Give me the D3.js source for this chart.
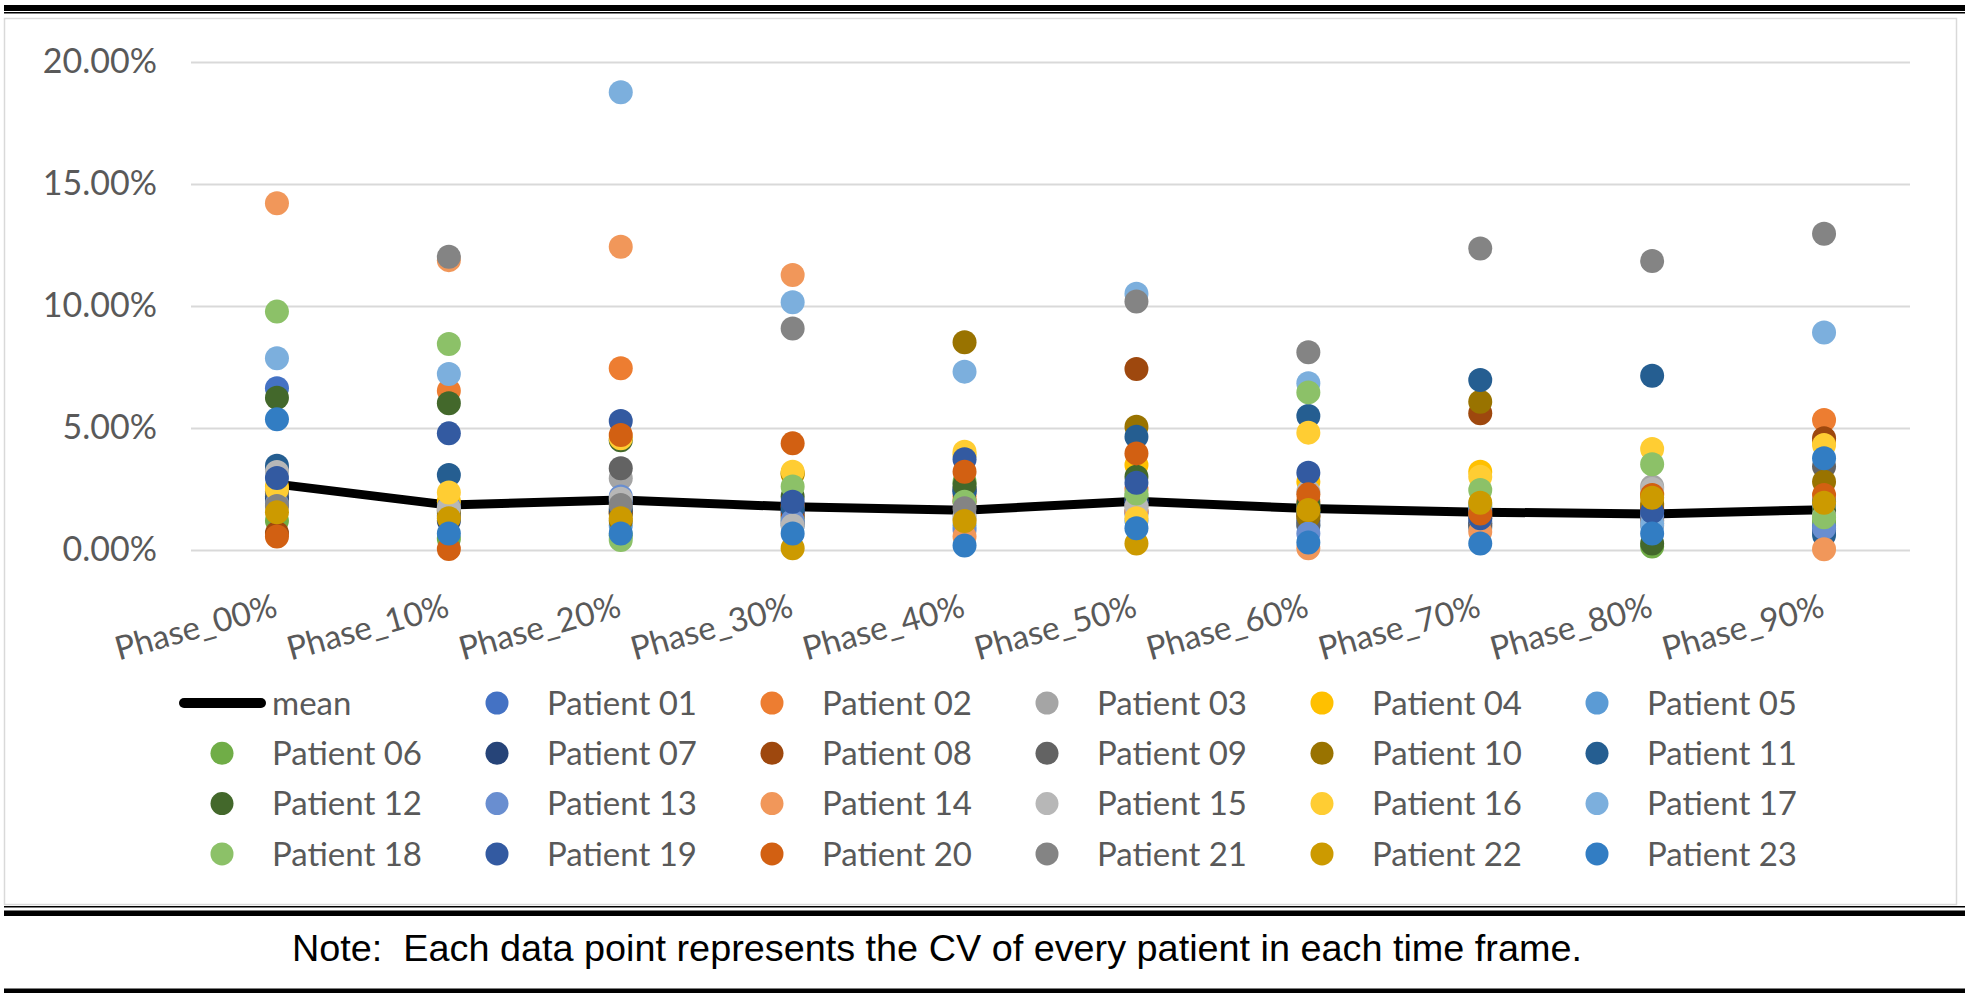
<!DOCTYPE html>
<html><head><meta charset="utf-8">
<script src="https://cdn.jsdelivr.net/npm/d3@7"></script>
<style>body{margin:0;background:#fff;} svg{display:block;}</style>
</head><body>
<svg id="chart" width="1965" height="998"></svg>
<script>
// ---- data (values in %) ----
const phases = ["Phase_00%","Phase_10%","Phase_20%","Phase_30%","Phase_40%","Phase_50%","Phase_60%","Phase_70%","Phase_80%","Phase_90%"];
const yTicks = [0, 5, 10, 15, 20];
const meanValues = [2.7, 1.84, 2.05, 1.77, 1.63, 2.0, 1.7, 1.55, 1.48, 1.65];
const patientNames = ["Patient 01","Patient 02","Patient 03","Patient 04","Patient 05","Patient 06","Patient 07","Patient 08","Patient 09","Patient 10","Patient 11","Patient 12","Patient 13","Patient 14","Patient 15","Patient 16","Patient 17","Patient 18","Patient 19","Patient 20","Patient 21","Patient 22","Patient 23"];
const patientColors = ["#4472C4","#ED7D31","#A5A5A5","#FFC000","#5B9BD5","#70AD47","#264478","#9E480E","#636363","#997300","#255E91","#43682B","#698ED0","#F1975A","#B7B7B7","#FFCD33","#7CAFDD","#8CC168","#335AA1","#D26012","#848484","#CC9A00","#327DC3"];
const patient01 = [6.63, 1.9, 2.0, 1.5, 2.5, 2.0, 1.5, 1.6, 1.6, 1.0];
const patient02 = [2.3, 6.53, 7.45, 1.8, 2.2, 2.5, 2.0, 1.4, 1.8, 5.33];
const patient03 = [3.3, 1.6, 2.94, 1.2, 1.4, 1.8, 1.8, 1.2, 2.6, 1.5];
const patient04 = [2.6, 2.0, 1.5, 3.1, 3.9, 3.48, 2.8, 3.21, 2.3, 4.4];
const patient05 = [2.2, 1.5, 1.0, 1.0, 1.0, 1.2, 1.0, 0.9, 1.0, 1.8];
const patient06 = [1.2, 0.45, 0.6, 1.3, 2.8, 2.2, 1.6, 1.8, 0.14, 1.2];
const patient07 = [2.1, 1.2, 1.5, 1.6, 2.39, 2.0, 1.2, 1.1, 1.2, 0.8];
const patient08 = [0.7, 1.7, 1.6, 1.4, 2.0, 7.42, 1.4, 5.6, 1.7, 4.58];
const patient09 = [2.4, 1.4, 3.35, 1.09, 2.5, 1.57, 1.02, 1.0, 1.3, 3.42];
const patient10 = [1.9, 1.6, 1.2, 3.15, 8.51, 5.05, 1.37, 6.08, 1.9, 2.8];
const patient11 = [3.45, 3.07, 1.7, 1.71, 2.4, 4.64, 5.49, 6.97, 7.14, 0.61];
const patient12 = [6.24, 6.01, 4.5, 2.19, 2.66, 3.0, 1.9, 1.5, 0.27, 1.6];
const patient13 = [1.9, 1.75, 2.19, 1.2, 0.82, 1.5, 0.68, 1.7, 1.4, 0.89];
const patient14 = [14.21, 11.88, 12.43, 11.27, 0.55, 1.6, 0.07, 0.75, 1.1, 0.03];
const patient15 = [3.2, 1.7, 2.1, 1.0, 1.3, 1.8, 2.4, 1.3, 2.5, 1.4];
const patient16 = [2.5, 2.36, 4.58, 3.21, 4.03, 1.3, 4.81, 3.0, 4.14, 4.3];
const patient17 = [7.86, 7.21, 18.76, 10.15, 7.31, 10.5, 6.83, 1.9, 1.09, 8.91];
const patient18 = [9.77, 8.44, 0.41, 2.6, 1.98, 2.32, 6.46, 2.46, 3.51, 1.34];
const patient19 = [2.95, 4.78, 5.29, 1.98, 3.72, 2.76, 3.17, 1.3, 1.57, 2.0];
const patient20 = [0.55, 0.04, 4.71, 4.37, 3.21, 3.96, 2.28, 1.5, 2.25, 2.25];
const patient21 = [1.8, 12.02, 1.84, 9.08, 1.71, 10.18, 8.1, 12.36, 11.84, 12.96];
const patient22 = [1.55, 1.3, 1.3, 0.07, 1.19, 0.27, 1.64, 1.94, 2.14, 1.94];
const patient23 = [5.36, 0.68, 0.68, 0.68, 0.18, 0.89, 0.31, 0.27, 0.68, 3.76];
const noteText = "Note:  Each data point represents the CV of every patient in each time frame.";

const patientValues = [patient01,patient02,patient03,patient04,patient05,patient06,patient07,patient08,patient09,patient10,patient11,patient12,patient13,patient14,patient15,patient16,patient17,patient18,patient19,patient20,patient21,patient22,patient23];

// ---- drawing ----
const svg = d3.select("#chart");
const W = 1965, H = 998;
const plot = {left: 191, right: 1910, top: 62, bottom: 550};
const labelFont = "Lato, 'Noto Sans', sans-serif";
const textGray = "#595959";

svg.append("rect").attr("width", W).attr("height", H).attr("fill", "#fff");

// table rules
svg.append("rect").attr("x", 4).attr("y", 5).attr("width", W - 4).attr("height", 6).attr("fill", "#000");
svg.append("rect").attr("x", 4).attr("y", 12).attr("width", W - 4).attr("height", 1.5).attr("fill", "#000");
// chart area border
svg.append("rect").attr("x", 4.5).attr("y", 18.5).attr("width", 1952).attr("height", 886)
  .attr("fill", "#fff").attr("stroke", "#d9d9d9").attr("stroke-width", 1.5);
svg.append("rect").attr("x", 4).attr("y", 906).attr("width", W - 4).attr("height", 1.5).attr("fill", "#000");
svg.append("rect").attr("x", 4).attr("y", 910.5).attr("width", W - 4).attr("height", 5.5).attr("fill", "#000");
svg.append("rect").attr("x", 4).attr("y", 988.5).attr("width", W - 4).attr("height", 4.5).attr("fill", "#000");

const x = d3.scaleBand().domain(phases).range([plot.left, plot.right]);
const y = d3.scaleLinear().domain([0, 20]).range([plot.bottom, plot.top]);
const cx = p => x(p) + x.bandwidth() / 2;

// y axis with gridlines
const yAxis = svg.append("g").attr("transform", `translate(${plot.left},0)`)
  .call(d3.axisLeft(y).tickValues(yTicks).tickFormat(d => d.toFixed(2) + "%")
    .tickSize(-(plot.right - plot.left)).tickPadding(34));
yAxis.select(".domain").remove();
yAxis.selectAll(".tick line").attr("stroke", "#d9d9d9").attr("stroke-width", 2);
yAxis.selectAll(".tick text").attr("fill", textGray).style("font-family", labelFont).style("font-size", "34px");

// x axis labels (rotated)
const xAxis = svg.append("g").attr("transform", `translate(0,${plot.bottom})`)
  .call(d3.axisBottom(x).tickSize(0));
xAxis.select(".domain").remove();
xAxis.selectAll(".tick text")
  .attr("x", 0).attr("y", 0).attr("dy", 0)
  .attr("text-anchor", "end")
  .attr("transform", "translate(2,66) rotate(-15.5)")
  .attr("fill", textGray).style("font-family", labelFont).style("font-size", "33px");

// mean line
const line = d3.line().x((d, i) => cx(phases[i])).y(d => y(d));
svg.append("path").datum(meanValues).attr("d", line)
  .attr("fill", "none").attr("stroke", "#000").attr("stroke-width", 9)
  .attr("stroke-linejoin", "round");

// patient points
patientValues.forEach((vals, s) => {
  svg.append("g").selectAll("circle").data(vals).join("circle")
    .attr("cx", (d, i) => cx(phases[i])).attr("cy", d => y(d))
    .attr("r", 12).attr("fill", patientColors[s]);
});

// legend
const legendItems = [{name: "mean", type: "line"}].concat(patientNames.map((n, i) => ({name: n, type: "dot", color: patientColors[i]})));
const legend = svg.append("g");
legendItems.forEach((it, i) => {
  const col = i % 6, row = Math.floor(i / 6);
  const mx = 222 + 275 * col, my = 703 + 50.3 * row;
  if (it.type === "line") {
    legend.append("line").attr("x1", 184).attr("x2", 261).attr("y1", my).attr("y2", my)
      .attr("stroke", "#000").attr("stroke-width", 10).attr("stroke-linecap", "round");
  } else {
    legend.append("circle").attr("cx", mx).attr("cy", my).attr("r", 11.5).attr("fill", it.color);
  }
  legend.append("text").attr("x", mx + 50).attr("y", my).attr("dy", "0.36em")
    .attr("fill", textGray).style("font-family", labelFont).style("font-size", "33px").text(it.name);
});

// note
svg.append("text").attr("x", 292).attr("y", 961)
  .style("white-space", "pre").style("font-family", "'Liberation Sans', Arial, sans-serif").style("font-size", "37.8px")
  .attr("fill", "#000").text(noteText);
</script>
</body></html>
